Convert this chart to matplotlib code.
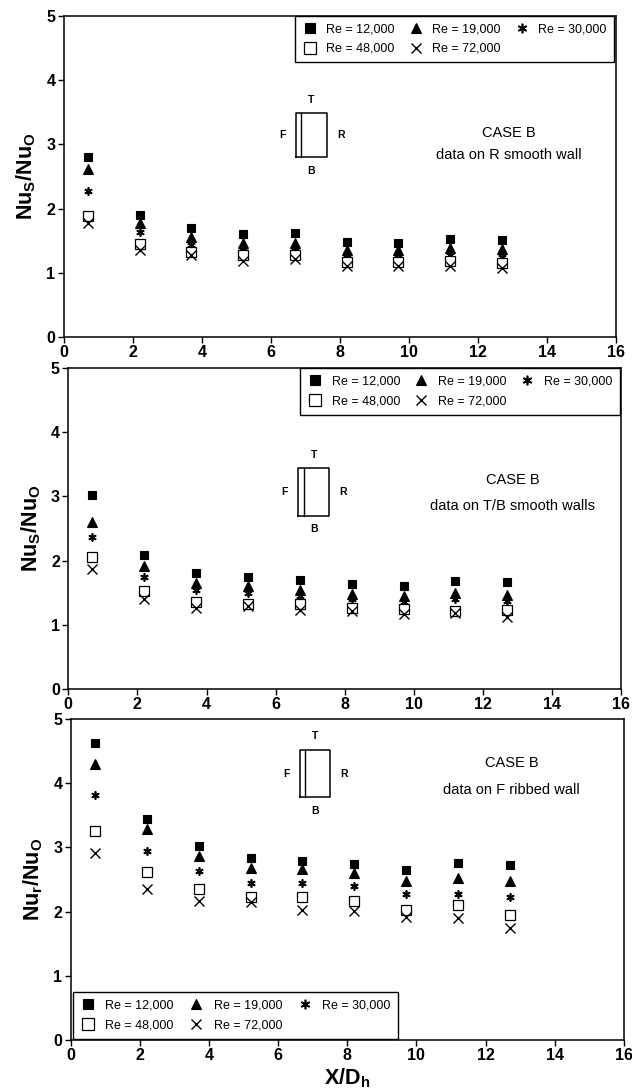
import matplotlib
matplotlib.use("Agg")
import matplotlib.pyplot as plt

plt.rcParams['font.family'] = ['Liberation Sans', 'DejaVu Sans']
plt.rcParams['mathtext.fontset'] = 'custom'
plt.rcParams['mathtext.rm'] = 'Liberation Sans:bold'
plt.rcParams['mathtext.bf'] = 'Liberation Sans:bold'
plt.rcParams['mathtext.default'] = 'bf'

# Streamwise station locations
x_dh = [0.7, 2.2, 3.7, 5.2, 6.7, 8.2, 9.7, 11.2, 12.7]

re_labels = ["Re = 12,000", "Re = 19,000", "Re = 30,000", "Re = 48,000", "Re = 72,000"]

# R smooth wall
r_re12 = [2.80, 1.90, 1.70, 1.60, 1.62, 1.48, 1.47, 1.53, 1.51]
r_re19 = [2.62, 1.78, 1.55, 1.47, 1.46, 1.36, 1.35, 1.38, 1.37]
r_re30 = [2.28, 1.63, 1.43, 1.35, 1.35, 1.25, 1.25, 1.28, 1.25]
r_re48 = [1.88, 1.45, 1.33, 1.27, 1.28, 1.17, 1.17, 1.19, 1.15]
r_re72 = [1.78, 1.36, 1.27, 1.19, 1.21, 1.10, 1.10, 1.10, 1.07]

# T/B smooth walls
tb_re12 = [3.02, 2.08, 1.80, 1.75, 1.70, 1.64, 1.61, 1.69, 1.66]
tb_re19 = [2.60, 1.92, 1.65, 1.60, 1.55, 1.48, 1.45, 1.50, 1.47]
tb_re30 = [2.37, 1.75, 1.55, 1.50, 1.45, 1.40, 1.35, 1.40, 1.37]
tb_re48 = [2.05, 1.52, 1.35, 1.33, 1.33, 1.27, 1.25, 1.22, 1.23]
tb_re72 = [1.87, 1.40, 1.27, 1.30, 1.23, 1.22, 1.17, 1.18, 1.12]

# F ribbed wall
f_re12 = [4.62, 3.44, 3.02, 2.83, 2.79, 2.74, 2.65, 2.76, 2.72]
f_re19 = [4.30, 3.28, 2.87, 2.68, 2.66, 2.60, 2.47, 2.53, 2.47]
f_re30 = [3.82, 2.95, 2.63, 2.45, 2.45, 2.40, 2.28, 2.28, 2.23]
f_re48 = [3.25, 2.62, 2.35, 2.23, 2.22, 2.17, 2.02, 2.10, 1.95]
f_re72 = [2.92, 2.35, 2.17, 2.15, 2.03, 2.01, 1.92, 1.90, 1.75]

x_ticks = [0, 2, 4, 6, 8, 10, 12, 14, 16]
y_ticks = [0, 1, 2, 3, 4, 5]

styles = [
    dict(marker='s', mfc='black', mec='black', ms=6, mew=0.8),
    dict(marker='^', mfc='black', mec='black', ms=6.5, mew=0.8),
    dict(marker=(6, 2, 0), mfc='black', mec='black', ms=6, mew=1.2),
    dict(marker='s', mfc='white', mec='black', ms=7, mew=0.9),
    dict(marker='x', mfc='none', mec='black', ms=6.5, mew=1.0),
]

fig = plt.figure(figsize=(6.32, 10.92), dpi=100)

panels = [
    dict(rect=[0.101, 0.6914, 0.873, 0.294],
         series=[r_re12, r_re19, r_re30, r_re48, r_re72],
         ylabel='Nu$_{S}$/Nu$_{O}$', note='data on R smooth wall',
         case_y=3.17, note_y=2.83, text_x=12.9,
         duct=(6.72, 7.62, 2.80, 3.49), legend='top'),
    dict(rect=[0.108, 0.369, 0.875, 0.294],
         series=[tb_re12, tb_re19, tb_re30, tb_re48, tb_re72],
         ylabel='Nu$_{S}$/Nu$_{O}$', note='data on T/B smooth walls',
         case_y=3.26, note_y=2.85, text_x=12.85,
         duct=(6.65, 7.55, 2.70, 3.44), legend='top'),
    dict(rect=[0.112, 0.0476, 0.875, 0.294],
         series=[f_re12, f_re19, f_re30, f_re48, f_re72],
         ylabel='Nu$_{r}$/Nu$_{O}$', note='data on F ribbed wall',
         case_y=4.31, note_y=3.90, text_x=12.75,
         duct=(6.62, 7.50, 3.78, 4.52), legend='bottom'),
]

for i, p in enumerate(panels):
    ax = fig.add_axes(p['rect'])
    for vals, st, lab in zip(p['series'], styles, re_labels):
        ax.plot(x_dh, vals, linestyle='none', color='black', label=lab, **st)

    ax.set_xlim(0, 16)
    ax.set_ylim(0, 5)
    ax.set_xticks(x_ticks)
    ax.set_yticks(y_ticks)
    ax.tick_params(direction='out', length=4, width=1, labelsize=11.5, pad=2)
    for lab in ax.get_xticklabels() + ax.get_yticklabels():
        lab.set_fontweight('bold')
    for sp in ax.spines.values():
        sp.set_linewidth(1.1)

    ax.set_ylabel(p['ylabel'], fontsize=15.5, fontweight='bold', labelpad=6)
    if i == 2:
        ax.set_xlabel('X/D$_{h}$', fontsize=15.5, fontweight='bold', labelpad=2)

    # Duct cross-section sketch with the ribbed wall marked by a double line
    x0, x1, y0, y1 = p['duct']
    ax.plot([x0, x1, x1, x0, x0], [y0, y0, y1, y1, y0], color='black', lw=1.1)
    ax.plot([x0 + 0.17, x0 + 0.17], [y0, y1], color='black', lw=1.0)
    xm = (x0 + x1) / 2
    ym = (y0 + y1) / 2
    ax.text(xm, y1 + 0.13, 'T', ha='center', va='bottom', fontsize=7.5, fontweight='bold')
    ax.text(xm, y0 - 0.13, 'B', ha='center', va='top', fontsize=7.5, fontweight='bold')
    ax.text(x0 - 0.3, ym, 'F', ha='right', va='center', fontsize=7.5, fontweight='bold')
    ax.text(x1 + 0.3, ym, 'R', ha='left', va='center', fontsize=7.5, fontweight='bold')

    ax.text(p['text_x'], p['case_y'], 'CASE B', ha='center', va='center', fontsize=10.5)
    ax.text(p['text_x'], p['note_y'], p['note'], ha='center', va='center', fontsize=10.5)

    handles, labels = ax.get_legend_handles_labels()
    order = [0, 3, 1, 4, 2]
    handles = [handles[k] for k in order]
    labels = [labels[k] for k in order]
    if p['legend'] == 'top':
        leg = ax.legend(handles, labels, loc='upper right', bbox_to_anchor=(0.997, 1.0),
                        ncol=3, fontsize=9, frameon=True, fancybox=False,
                        borderaxespad=0, handlelength=1.2, handletextpad=0.7,
                        columnspacing=1.1, labelspacing=0.6, borderpad=0.6,
                        markerscale=1.15)
    else:
        leg = ax.legend(handles, labels, loc='lower left', bbox_to_anchor=(0.004, 0.004),
                        ncol=3, fontsize=9, frameon=True, fancybox=False,
                        borderaxespad=0, handlelength=1.2, handletextpad=0.8,
                        columnspacing=1.2, labelspacing=0.6, borderpad=0.6,
                        markerscale=1.15)
    leg.get_frame().set_edgecolor('black')
    leg.get_frame().set_linewidth(1.0)
    leg.get_frame().set_alpha(1.0)

fig.savefig('out.png', dpi=100)
